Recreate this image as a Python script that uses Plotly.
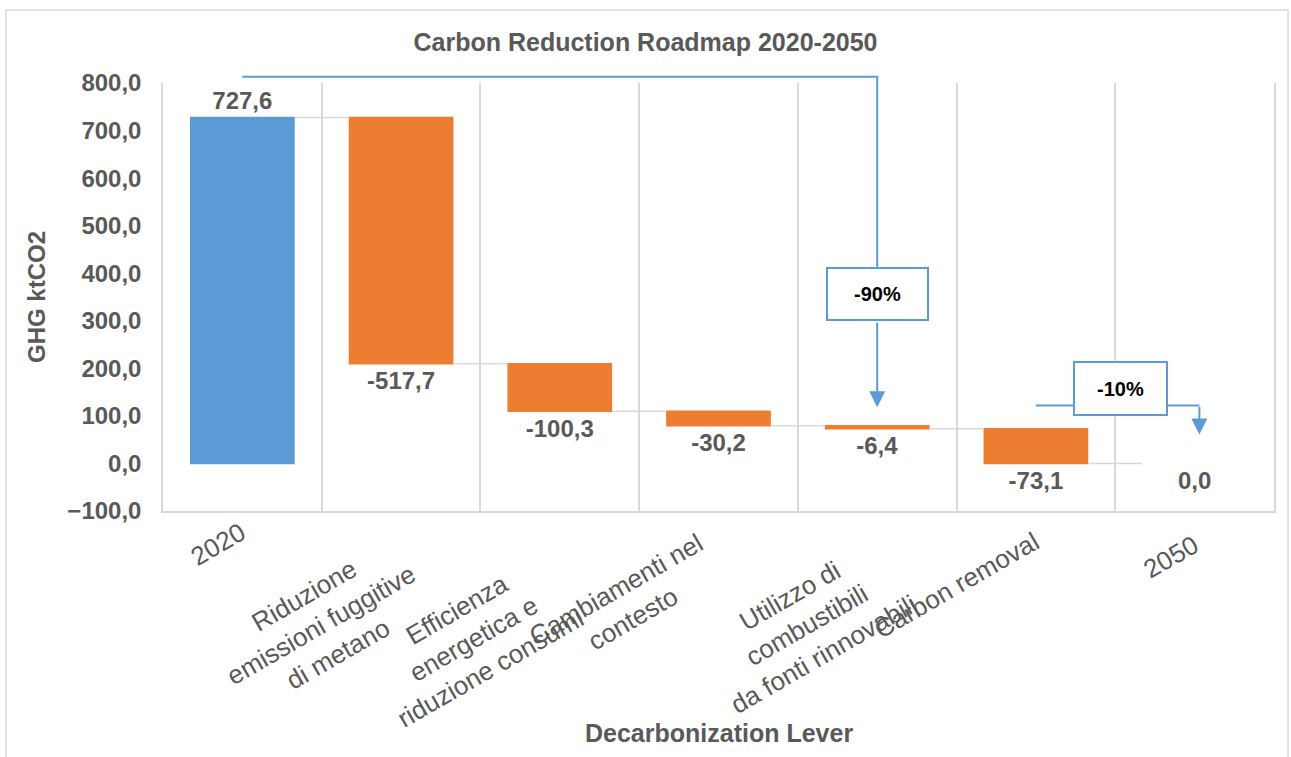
import plotly.graph_objects as go

# ---------------- data ----------------
categories = [
    "2020",
    "Riduzione emissioni fuggitive di metano",
    "Efficienza energetica e riduzione consumi",
    "Cambiamenti nel contesto",
    "Utilizzo di combustibili da fonti rinnovabili",
    "Carbon removal",
    "2050",
]
tick_labels = [
    "2020",
    "Riduzione<br>emissioni fuggitive<br>di metano",
    "Efficienza<br>energetica e<br>riduzione consumi",
    "Cambiamenti nel<br>contesto",
    "Utilizzo di<br>combustibili<br>da fonti rinnovabili",
    "Carbon removal",
    "2050",
]
values = [727.6, -517.7, -100.3, -30.2, -6.4, -73.1, 0.0]
measures = ["relative", "relative", "relative", "relative", "relative", "relative", "total"]

title_text = "Carbon Reduction Roadmap 2020-2050"
y_title = "GHG ktCO2"
x_title = "Decarbonization Lever"
y_ticks = [-100, 0, 100, 200, 300, 400, 500, 600, 700, 800]

callout_90 = "-90%"
callout_10 = "-10%"

# ---------------- style ----------------
BLUE = "#5B9BD5"
ORANGE = "#ED7D31"
TXT = "#595959"
GRID = "#D9D9D9"
FONT = "Liberation Sans, Arial, sans-serif"

YMIN, YMAX = -100, 800
N = len(categories)

# pixel offsets of each rotated category label block (centre) from its category centre
label_dx = [-24, -80, -86, -94, -70, -79, -24]
label_dy = [-33, -114, -128, -93, -114, -74, -46]


def xp(i):
    return (i + 0.5) / N


def yp(v):
    return (v - YMIN) / (YMAX - YMIN)


def fmt(v):
    return f"{v:.1f}".replace(".", ",")


labels = [fmt(v) for v in values]

fig = go.Figure()
fig.add_trace(
    go.Waterfall(
        x=categories,
        y=values,
        measure=measures,
        text=labels,
        textposition="outside",
        textfont=dict(family=FONT, size=24, color=TXT, weight="bold"),
        cliponaxis=False,
        width=0.66,
        increasing=dict(marker=dict(color=BLUE)),
        decreasing=dict(marker=dict(color=ORANGE)),
        totals=dict(marker=dict(color="rgba(0,0,0,0)", line=dict(width=0))),
        connector=dict(mode="between", line=dict(color=GRID, width=1.5)),
        hoverinfo="skip",
        showlegend=False,
    )
)

annotations = []
# category labels
for i, lab in enumerate(tick_labels):
    annotations.append(
        dict(
            x=i, xref="x", y=0, yref="paper",
            text=lab, showarrow=False, textangle=-30,
            xanchor="center", yanchor="middle", align="center",
            xshift=label_dx[i], yshift=label_dy[i],
            font=dict(family=FONT, size=26, color=TXT),
        )
    )
# x title
annotations.append(
    dict(
        x=0.5, xref="paper", y=-0.519, yref="paper",
        text=x_title, showarrow=False, xanchor="center", yanchor="middle",
        font=dict(family=FONT, size=25, color=TXT, weight="bold"),
    )
)

# -90% callout
annotations.append(
    dict(
        x=xp(4), xref="paper", y=yp(356), yref="paper",
        xanchor="center", yanchor="middle",
        text=callout_90, showarrow=False, width=99, height=50,
        bgcolor="white", bordercolor=BLUE, borderwidth=2, borderpad=0,
        font=dict(family=FONT, size=20, color="black", weight="bold"),
    )
)
annotations.append(
    dict(
        x=4, xref="x", y=118, yref="y",
        ax=4, axref="x", ay=299, ayref="y",
        text="", showarrow=True, arrowhead=2, arrowsize=1.6,
        arrowwidth=2, arrowcolor=BLUE, standoff=0,
    )
)
# -10% callout
annotations.append(
    dict(
        x=xp(5.53), xref="paper", y=yp(157), yref="paper",
        xanchor="center", yanchor="middle",
        text=callout_10, showarrow=False, width=91, height=51,
        bgcolor="white", bordercolor=BLUE, borderwidth=2, borderpad=0,
        font=dict(family=FONT, size=20, color="black", weight="bold"),
    )
)
annotations.append(
    dict(
        x=6.03, xref="x", y=61, yref="y",
        ax=6.03, axref="x", ay=122, ayref="y",
        text="", showarrow=True, arrowhead=2, arrowsize=1.6,
        arrowwidth=2, arrowcolor=BLUE, standoff=0,
    )
)

shapes = [
    # -90% elbow line
    dict(
        type="path", xref="paper", yref="paper",
        path=f"M {xp(0)},{yp(813)} L {xp(4)},{yp(813)} L {xp(4)},{yp(413)}",
        line=dict(color=BLUE, width=2),
    ),
    # -10% line
    dict(
        type="line", xref="paper", yref="paper",
        x0=xp(5), x1=xp(6.03), y0=yp(122), y1=yp(122),
        line=dict(color=BLUE, width=2),
    ),
    # outer chart border
    dict(
        type="rect", xref="paper", yref="paper",
        x0=(6 - 163) / 1111, x1=(1288 - 163) / 1111,
        y0=(511 - 800) / 428, y1=(511 - 10) / 428,
        line=dict(color=GRID, width=1.5), layer="below",
    ),
]

fig.update_layout(
    width=1291,
    height=757,
    margin=dict(l=163, r=17, t=83, b=246, autoexpand=False),
    paper_bgcolor="white",
    plot_bgcolor="white",
    separators=",.",
    title=dict(
        text=title_text, x=0.5, xanchor="center", y=1 - 42 / 757, yanchor="middle",
        font=dict(family=FONT, size=25, color=TXT, weight="bold"),
    ),
    xaxis=dict(
        type="category",
        range=[-0.5, N - 0.5],
        showticklabels=False,
        tickson="boundaries",
        ticks="",
        showgrid=True,
        gridcolor=GRID,
        gridwidth=1.5,
        showline=True,
        linecolor=GRID,
        linewidth=1.5,
        zeroline=False,
        fixedrange=True,
    ),
    yaxis=dict(
        range=[YMIN, YMAX],
        tickvals=y_ticks,
        tickformat=".1f",
        ticks="",
        ticklabelstandoff=15,
        tickfont=dict(family=FONT, size=24, color=TXT, weight="bold"),
        showgrid=False,
        zeroline=False,
        showline=True,
        mirror=True,
        linecolor=GRID,
        linewidth=1.5,
        title=dict(text=y_title, standoff=15,
                   font=dict(family=FONT, size=24, color=TXT, weight="bold")),
        automargin=False,
        fixedrange=True,
    ),
    annotations=annotations,
    shapes=shapes,
)

fig.write_html(
    "out.html",
    config={"displayModeBar": False},
    post_script="document.body.style.margin='0px';document.body.style.padding='0px';",
)
